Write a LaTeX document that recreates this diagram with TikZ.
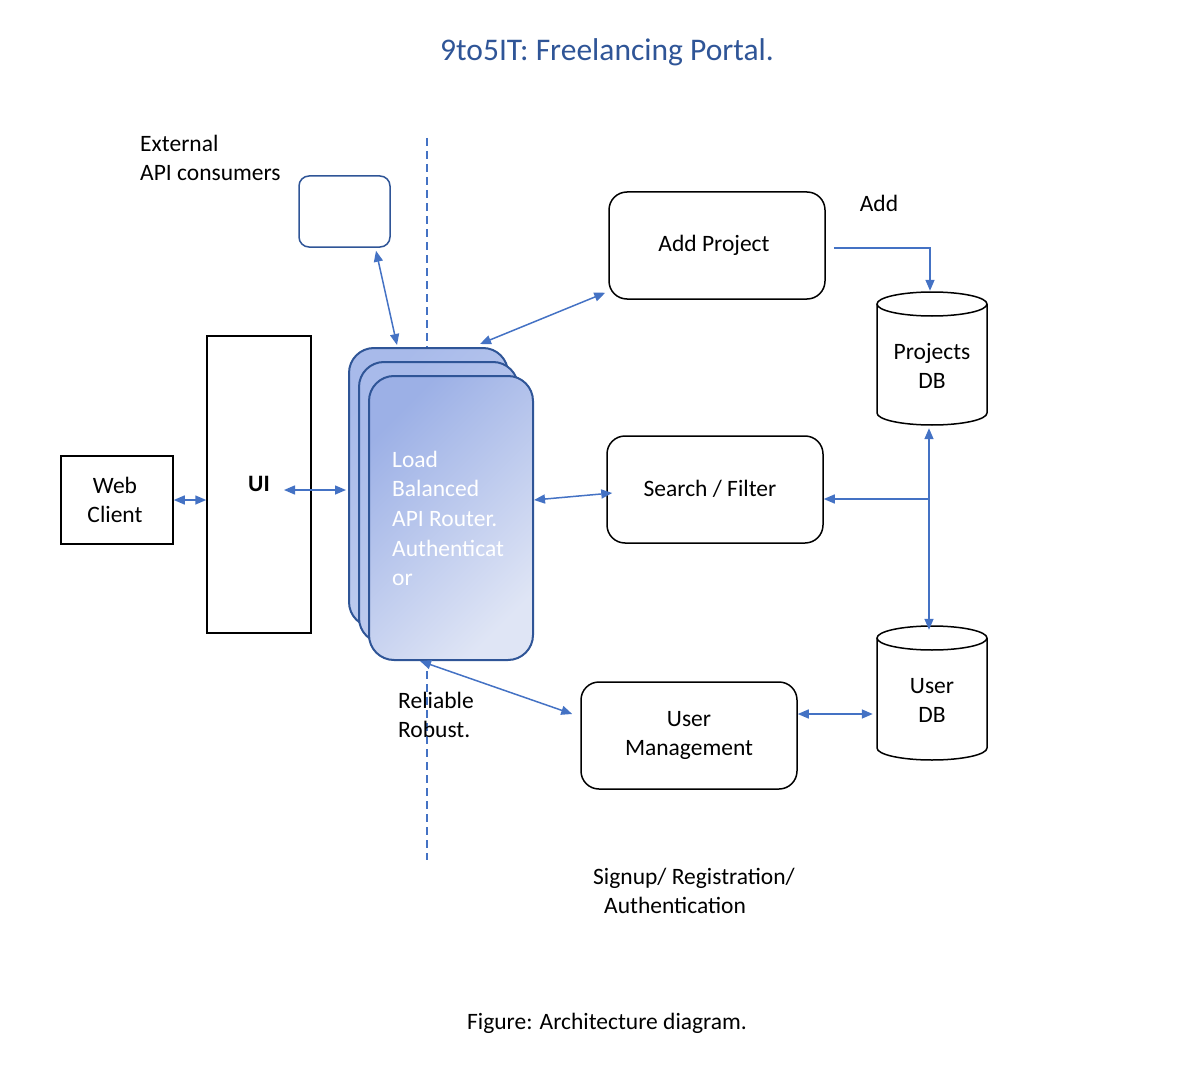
\documentclass[tikz,border=0pt]{standalone}
\usepackage{fontspec}
\setmainfont{Carlito}
\usetikzlibrary{arrows.meta}
\definecolor{lblue}{HTML}{4472C4}
\definecolor{dblue}{HTML}{2F5597}
\definecolor{gA}{HTML}{9CB0E6}
\definecolor{gB}{HTML}{DFE5F5}
\definecolor{gC}{HTML}{A8BAEA}
\definecolor{gD}{HTML}{C6D2F0}
\begin{document}
\begin{tikzpicture}[x=1pt,y=-1pt,
  txt/.style={font=\fontsize{23.5}{29}\selectfont, inner sep=0pt},
  plainbox/.style={draw=black, line width=1.5pt, fill=white},
  roundbox/.style={draw=black, line width=1.5pt, rounded corners=18pt, fill=white},
  stackbox/.style={draw=dblue, line width=2pt, rounded corners=25pt},
  conn/.style={draw=lblue, line width=1.5pt, >={Triangle[length=11pt,width=9pt]}},
  cyl/.style={draw=black, line width=1.5pt, fill=white}
]
\useasboundingbox (0,0) rectangle (1200,1070);

% title and captions
\node[txt, font=\fontsize{31.5}{36}\selectfont, text=dblue] (title) at (607,52) {9to5IT: Freelancing Portal.};
\node[txt] (caption) at (607,1023) {Figure: Architecture diagram.};

% dashed boundary
\draw[lblue, line width=1.5pt, dash pattern=on 8pt off 5pt] (427,138) -- (427,860);

% external consumers
\node[txt, anchor=west, align=left] (extlabel) at (140,158) {External\\API consumers};
\node[draw=dblue, line width=1.5pt, rounded corners=10pt, minimum width=91pt, minimum height=71pt] (ext) at (344.5,211.5) {};

% web client and UI
\node[plainbox, minimum width=112pt, minimum height=88pt] (web) at (117,500) {};
\node[txt, align=center] (webl) at (115,500) {Web\\Client};
\node[plainbox, minimum width=104pt, minimum height=297pt] (ui) at (259,484.5) {};
\node[txt, font=\fontsize{23.5}{29}\selectfont\bfseries] (uil) at (259,484) {UI};

% stacked router
\node[stackbox, top color=gC, bottom color=gD, shading angle=45, minimum width=159pt, minimum height=279pt] (st1) at (428.5,487.5) {};
\node[stackbox, top color=gC, bottom color=gD, shading angle=45, minimum width=159pt, minimum height=281pt] (st2) at (438.5,502.5) {};
\node[stackbox, top color=gA, bottom color=gB, shading angle=45, minimum width=164pt, minimum height=284pt] (st3) at (451,518) {};
\node[txt, text=white, anchor=west, align=left, font=\fontsize{23.5}{29.7}\selectfont] (stl) at (392,518.5) {Load\\Balanced\\API Router.\\Authenticat\\or};

% right side boxes
\node[roundbox, minimum width=216pt, minimum height=107pt] (add) at (717,245.5) {};
\node[txt] (addl) at (714,245) {Add Project};
\node[roundbox, minimum width=216pt, minimum height=107pt] (search) at (715,489.5) {};
\node[txt] (searchl) at (710,489) {Search / Filter};
\node[roundbox, minimum width=216pt, minimum height=107pt] (um) at (689,735.5) {};
\node[txt, align=center] (uml) at (689,735) {User\\Management};

% cylinders
\node[minimum width=110pt, minimum height=133pt, inner sep=0pt] (pdb) at (932,358.5) {};
\draw[cyl] (877,304) -- (877,413) arc[start angle=180, end angle=0, x radius=55, y radius=12] -- (987,304);
\draw[cyl] (932,304) ellipse[x radius=55, y radius=12];
\node[txt, align=center] (pdbl) at (932,366) {Projects\\DB};

\node[minimum width=110pt, minimum height=134pt, inner sep=0pt] (udb) at (932,693) {};
\draw[cyl] (877,638) -- (877,748) arc[start angle=180, end angle=0, x radius=55, y radius=12] -- (987,638);
\draw[cyl] (932,638) ellipse[x radius=55, y radius=12];
\node[txt, align=center] (udbl) at (932,700) {User\\DB};

% labels
\node[txt] (addlab) at (879,203) {Add};
\node[txt, anchor=west, align=left] (rel) at (398,715) {Reliable\\Robust.};
\node[txt, anchor=west, align=left] (sig) at (593,891) {Signup/ Registration/\\\hspace*{11pt}Authentication};

% connectors
\draw[conn, <->] ([shift={(31.5,3)}]ext.south) -- ([shift={(-31.5,-2)}]st1.north);
\draw[conn, <->] ([shift={(51.5,-3)}]st1.north) -- ([shift={(-3,-7)}]add.south west);
\draw[conn, <->] ([shift={(0,-18)}]st3.east) -- ([shift={(6,3.5)}]search.west);
\draw[conn, <->] ([shift={(-31,0)}]st3.south) -- ([shift={(-8,-21.5)}]um.west);
\draw[conn, <->] ([shift={(0,-21.5)}]um.east) -- ([shift={(-4,21)}]udb.west);
\draw[conn, <->] (web.east) -- (ui.west |- web.east);
\draw[conn, <->] ([shift={(14,6)}]uil.east) -- ([shift={(-2,2.5)}]st1.west);
\draw[conn, ->] ([shift={(8,2.5)}]add.east) -| ([shift={(-2,-1)}]pdb.north);
\coordinate (junc) at ([shift={(-3,9.5)}]search.east -| pdb.south);
\draw[conn, <->] ([shift={(-3,3)}]pdb.south) -- ([shift={(-3,4)}]udb.north);
\draw[conn, ->] ([xshift=-3pt]pdb.south |- search.east) ++(0,9.5) -- ([shift={(0,9.5)}]search.east);
\end{tikzpicture}
\end{document}
